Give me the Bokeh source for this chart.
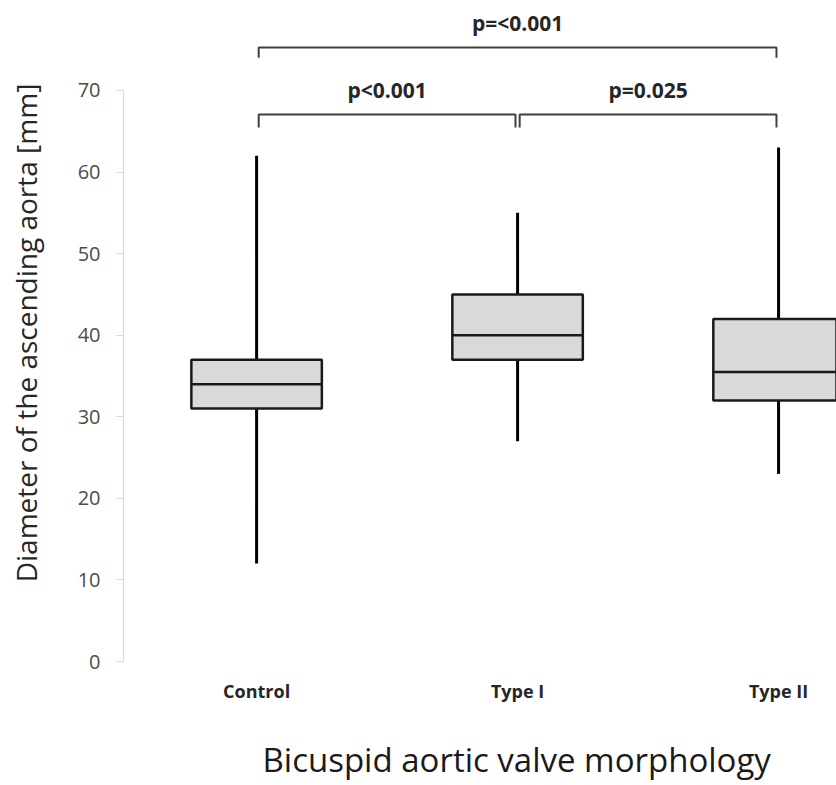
from bokeh.plotting import figure
from bokeh.models import Range1d, FixedTicker, Title, ColumnDataSource, LinearAxis
from bokeh.core.properties import value
from bokeh.embed import file_html
from bokeh.resources import INLINE

# ---- data ----
categories = ["Control", "Type I", "Type II"]
whisker_low = [12, 27, 23]
q1 = [31, 37, 32]
median = [34, 40, 35.5]
q3 = [37, 45, 42]
whisker_high = [62, 55, 63]
comparisons = [(0, 1, "p<0.001"), (1, 2, "p=0.025"), (0, 2, "p=<0.001")]
y_ticks = [0, 10, 20, 30, 40, 50, 60, 70]

FONT = "Open Sans"
xs = list(range(len(categories)))
box_w = 0.5

src = ColumnDataSource(dict(
    x=xs, lo=whisker_low, q1=q1, med=median, q3=q3, hi=whisker_high,
    xl=[x - box_w / 2 for x in xs], xr=[x + box_w / 2 for x in xs],
))

p = figure(width=836, height=785,
           x_range=Range1d(-0.51, 2.222), y_range=Range1d(-0.49, 81.03),
           output_backend="svg", toolbar_location=None,
           min_border_left=123, min_border_right=0, min_border_top=0,
           min_border_bottom=120)
p.outline_line_color = None
p.xgrid.visible = False
p.ygrid.visible = False
p.background_fill_color = "white"

# whiskers
p.segment(x0="x", y0="lo", x1="x", y1="q1", source=src, line_color="black", line_width=3)
p.segment(x0="x", y0="q3", x1="x", y1="hi", source=src, line_color="black", line_width=3)
# boxes
p.vbar(x="x", width=box_w, bottom="q1", top="q3", source=src,
       fill_color="#d9d9d9", line_color="#1a1a1a", line_width=2.5)
# medians
p.segment(x0="xl", y0="med", x1="xr", y1="med", source=src, line_color="#1a1a1a", line_width=2.5)

# significance brackets
bx, by, tx, ty, tt = [], [], [], [], []
for i, j, lab in comparisons:
    level = 0 if j - i == 1 else 1
    yh = 67.06 if level == 0 else 75.27
    drop = 1.6 if level == 0 else 1.25
    a, b = i + 0.008, j - 0.008
    bx.append([a, a, b, b])
    by.append([yh - drop, yh, yh, yh - drop])
    tx.append((i + j) / 2)
    ty.append(yh + 3.0)
    tt.append(lab)
p.multi_line(xs=bx, ys=by, line_color="#404040", line_width=2)
p.text(x=tx, y=ty, text=tt, text_align="center", text_baseline="middle",
       text_font=value(FONT), text_font_style="bold", text_font_size="21px",
       text_color="#262626")

# y axis
ya = p.yaxis[0]
ya.ticker = FixedTicker(ticks=y_ticks)
ya.bounds = (0, 70)
ya.axis_line_color = "#d9d9d9"
ya.major_tick_line_color = "#d9d9d9"
ya.major_tick_in = 0
ya.major_tick_out = 7
ya.minor_tick_line_color = None
ya.major_label_text_font = FONT
ya.major_label_text_font_size = "20px"
ya.major_label_text_color = "#4d4d4d"
ya.major_label_standoff = 16
ya.axis_label = "Diameter of the ascending aorta [mm]"
ya.axis_label_text_font = FONT
ya.axis_label_text_font_size = "28px"
ya.axis_label_text_font_style = "normal"
ya.axis_label_text_color = "#262626"
ya.axis_label_standoff = 30

# x axis (categories)
xa = p.xaxis[0]
xa.ticker = FixedTicker(ticks=xs)
xa.major_label_overrides = {i: c for i, c in enumerate(categories)}
xa.axis_line_color = None
xa.major_tick_line_color = None
xa.minor_tick_line_color = None
xa.major_label_text_font = FONT
xa.major_label_text_font_style = "bold"
xa.major_label_text_font_size = "18px"
xa.major_label_text_color = "#262626"
xa.major_label_standoff = 7

# blank spacing axis between category labels and the axis title
spacer = LinearAxis(ticker=FixedTicker(ticks=[0]), axis_line_color=None,
                    major_tick_line_color="white",
                    minor_tick_line_color=None,
                    major_label_overrides={0: ""},
                    major_tick_in=0, major_tick_out=27, major_label_standoff=0)
p.add_layout(spacer, "below")

p.add_layout(Title(text="Bicuspid aortic valve morphology", align="left", offset=139,
                   standoff=4, vertical_align="bottom", text_font=FONT,
                   text_font_size="33px", text_font_style="normal",
                   text_color="#1a1a1a"), "below")

open("out.html", "w").write(file_html(p, INLINE))
